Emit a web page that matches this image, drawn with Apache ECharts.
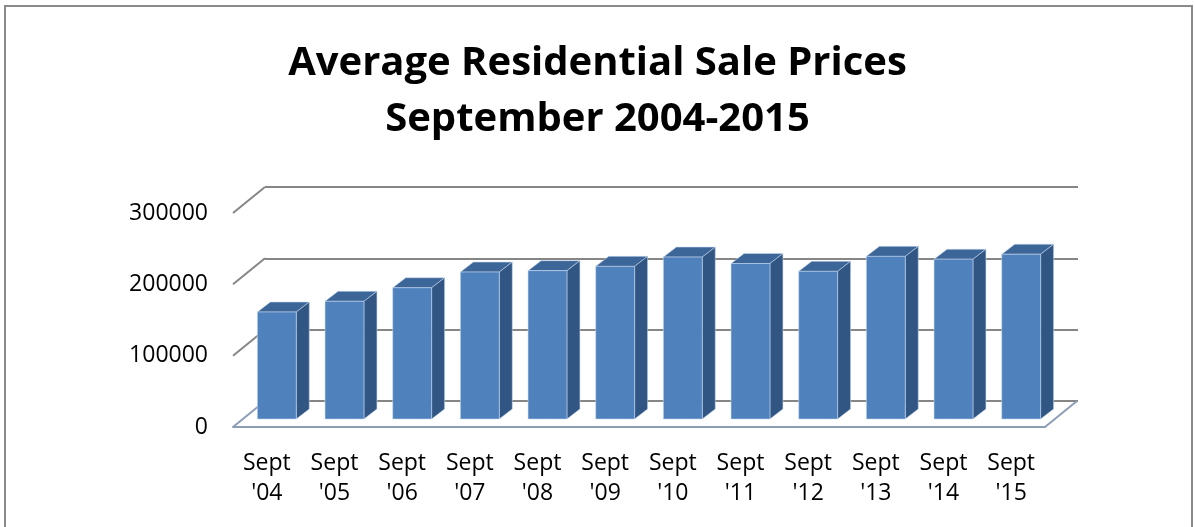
<!DOCTYPE html>
<html>
<head>
<meta charset="utf-8">
<script src="https://cdn.jsdelivr.net/npm/echarts@6/dist/echarts.min.js"></script>
<style>
html, body { margin: 0; padding: 0; background: #fff; }
#chart { width: 1195px; height: 527px; }
</style>
</head>
<body>
<div id="chart"></div>
<script>
var categories = ["Sept\n'04", "Sept\n'05", "Sept\n'06", "Sept\n'07", "Sept\n'08", "Sept\n'09",
                  "Sept\n'10", "Sept\n'11", "Sept\n'12", "Sept\n'13", "Sept\n'14", "Sept\n'15"];
var prices = [150000, 165000, 184000, 206000, 208000, 214000, 227000, 218000, 207000, 228000, 224000, 231000];
var yTicks = [0, 100000, 200000, 300000];

var chart = echarts.init(document.getElementById('chart'));

// depth of the floor / walls (front plane -> back plane), in px
var DEPTH_X = 32, DEPTH_Y = -26;
var font = 'Open Sans';

function renderWallEdge(params, api) {
  var v = api.value(1);
  var y = api.coord([0, v])[1];
  var left = params.coordSys.x;
  var right = left + params.coordSys.width;
  var color = v === 0 ? '#8c9db5' : '#868686';
  var children = [{
    type: 'line',
    shape: { x1: left, y1: y, x2: left + DEPTH_X, y2: y + DEPTH_Y },
    style: { stroke: color, lineWidth: 2 }
  }];
  if (v === 0) {
    children.push({
      type: 'line',
      shape: { x1: right, y1: y, x2: right + DEPTH_X, y2: y + DEPTH_Y },
      style: { stroke: color, lineWidth: 2 }
    });
  }
  return { type: 'group', children: children };
}

function renderBar(params, api) {
  var i = api.value(0), v = api.value(1);
  var base = api.coord([i, 0]);
  var top = api.coord([i, v]);
  var band = api.size([1, 0])[0];
  var w = band * 0.575;
  // bar sits in the middle of the floor depth
  var x0 = base[0] - w / 2 + 10, x1 = x0 + w;
  var yb = base[1] - 8, yt = top[1] - 8;
  var dx = 13, dy = -10;
  var edge = 'rgba(200,218,240,0.55)';
  return {
    type: 'group',
    children: [
      { type: 'polygon', shape: { points: [[x0, yt], [x1, yt], [x1 + dx, yt + dy], [x0 + dx, yt + dy]] },
        style: { fill: '#3d6698', stroke: edge, lineWidth: 1 } },
      { type: 'polygon', shape: { points: [[x1, yt], [x1 + dx, yt + dy], [x1 + dx, yb + dy], [x1, yb]] },
        style: { fill: '#325683', stroke: edge, lineWidth: 1 } },
      { type: 'rect', shape: { x: x0, y: yt, width: w, height: yb - yt },
        style: { fill: '#4f81bd', stroke: edge, lineWidth: 1 } }
    ]
  };
}

var option = {
  animation: false,
  title: {
    text: 'Average Residential Sale Prices\nSeptember 2004-2015',
    left: 'center',
    top: 31,
    textStyle: {
      fontFamily: font,
      fontWeight: 'bold',
      fontSize: 40,
      lineHeight: 56,
      color: '#000'
    }
  },
  graphic: [{
    type: 'rect',
    shape: { x: 5, y: 6, width: 1187, height: 600 },
    style: { fill: 'none', stroke: '#8a8a8a', lineWidth: 2 },
    silent: true
  }],
  grid: [
    // front plane
    { left: 233, right: 150, top: 213, bottom: 100 },
    // back wall
    { left: 265, right: 117, top: 187, bottom: 126 }
  ],
  xAxis: [{
    gridIndex: 0,
    type: 'category',
    data: categories,
    axisLine: { show: true, lineStyle: { color: '#8c9db5', width: 2 } },
    axisTick: { show: false },
    axisLabel: {
      interval: 0,
      margin: 21,
      fontFamily: font,
      fontSize: 23,
      lineHeight: 30,
      color: '#000'
    }
  }, {
    gridIndex: 1,
    type: 'category',
    data: categories,
    show: false
  }],
  yAxis: [{
    gridIndex: 0,
    type: 'value',
    min: 0,
    max: 300000,
    interval: 100000,
    axisLine: { show: false },
    axisTick: { show: false },
    splitLine: { show: false },
    axisLabel: {
      margin: 25,
      fontFamily: font,
      fontSize: 23,
      color: '#000',
      formatter: function (v) { return String(v); }
    }
  }, {
    gridIndex: 1,
    type: 'value',
    min: 0,
    max: 300000,
    interval: 100000,
    axisLine: { show: false },
    axisTick: { show: false },
    axisLabel: { show: false },
    splitLine: { show: true, lineStyle: { color: '#868686', width: 2 } }
  }],
  series: [{
    type: 'custom',
    name: 'walls',
    xAxisIndex: 0,
    yAxisIndex: 0,
    renderItem: renderWallEdge,
    data: yTicks.map(function (v) { return [0, v]; }),
    silent: true,
    z: 1
  }, {
    type: 'custom',
    name: 'Average Sale Price',
    xAxisIndex: 0,
    yAxisIndex: 0,
    renderItem: renderBar,
    encode: { x: 0, y: 1 },
    data: prices.map(function (v, i) { return [i, v]; }),
    z: 3
  }]
};
chart.setOption(option);
</script>
</body>
</html>
